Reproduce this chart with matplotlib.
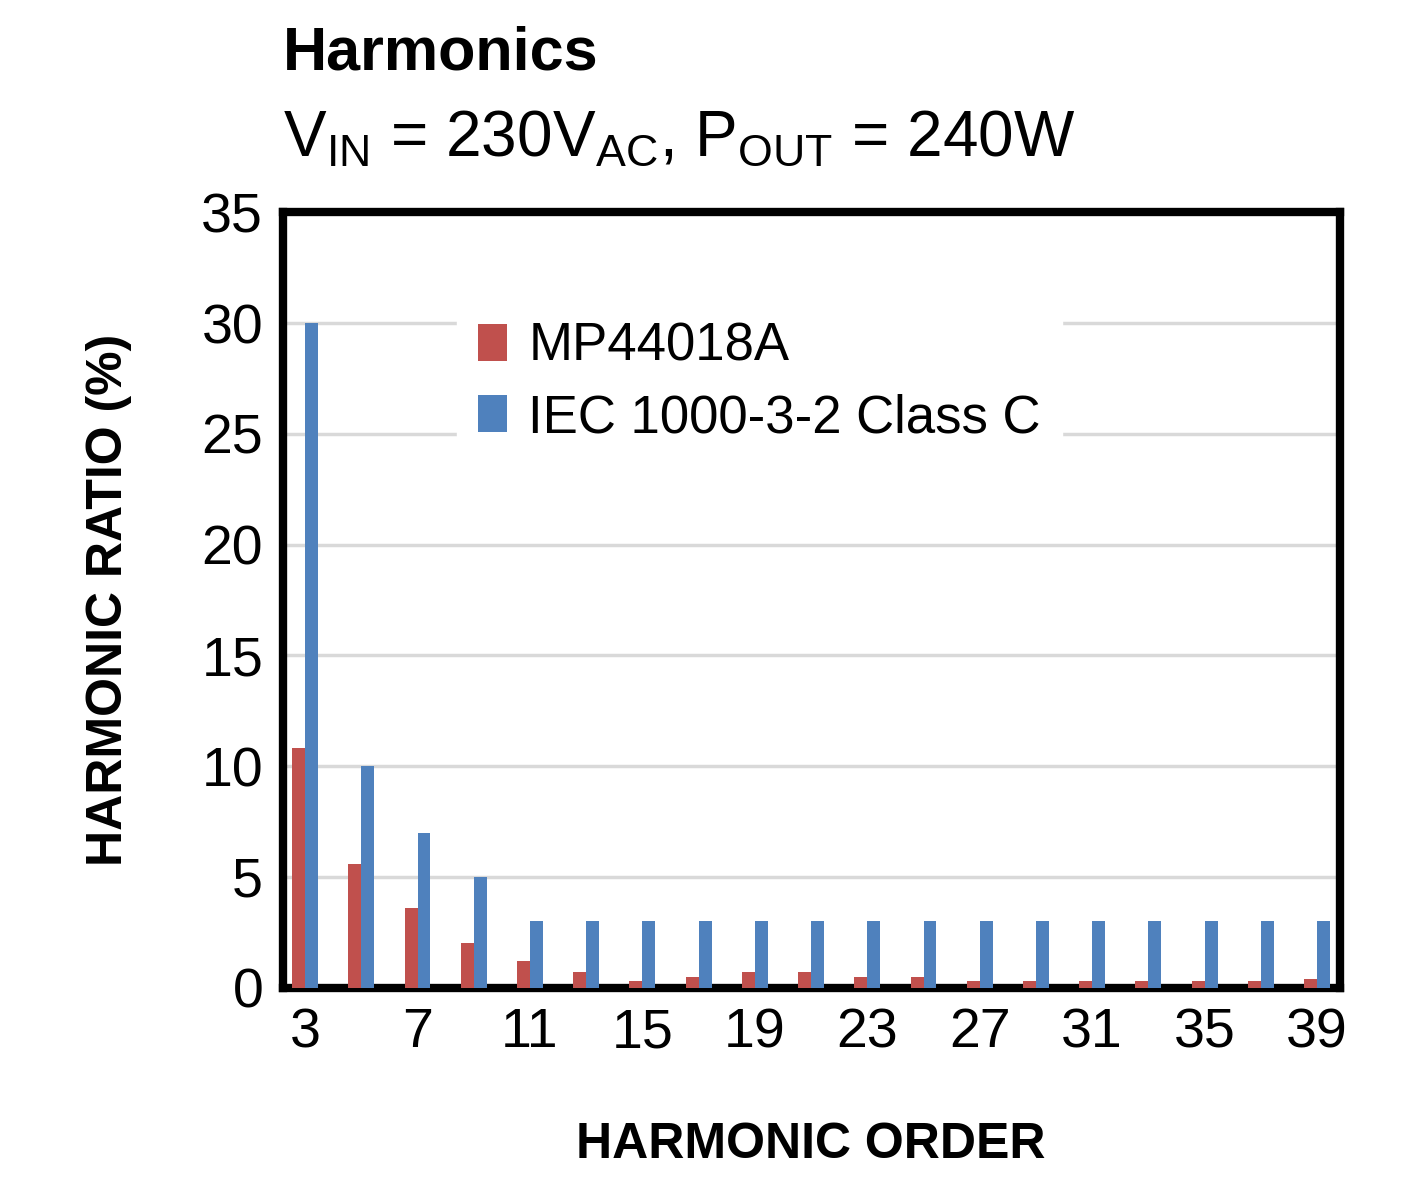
import matplotlib
matplotlib.use("Agg")
import matplotlib.pyplot as plt
import numpy as np

orders = [3,5,7,9,11,13,15,17,19,21,23,25,27,29,31,33,35,37,39]
mp = [10.8,5.6,3.6,2.0,1.2,0.7,0.3,0.5,0.7,0.7,0.5,0.5,0.3,0.3,0.3,0.3,0.3,0.3,0.4]
iec = [30,10,7,5,3,3,3,3,3,3,3,3,3,3,3,3,3,3,3]
tick_labels = ["3","7","11","15","19","23","27","31","35","39"]

plt.rcParams['font.family'] = ['Liberation Sans', 'DejaVu Sans']
plt.rcParams['mathtext.fontset'] = 'custom'
plt.rcParams['mathtext.rm'] = 'Liberation Sans'
fig = plt.figure(figsize=(14.13, 12), dpi=100)
ax = fig.add_axes([0.2, 0.177, 0.748, 0.646])
x = np.arange(len(orders))
w = 0.23
ax.bar(x - w/2, mp, w, color='#c0504d', label='MP44018A', zorder=3)
ax.bar(x + w/2, iec, w, color='#4f81bd', label='IEC 1000-3-2 Class C', zorder=3)
ax.set_xlim(-0.4, len(orders) - 0.6)
ax.set_ylim(0, 35)
ax.set_yticks(range(0, 36, 5))
ax.set_xticks(x[::2])
ax.set_xticklabels(tick_labels)
ax.tick_params(axis='both', labelsize=40, length=0, pad=14)
ax.yaxis.grid(True, color='#d9d9d9', linewidth=2.5, zorder=0)
for s in ax.spines.values():
    s.set_linewidth(6)
ax.set_xlabel('HARMONIC ORDER', fontsize=36, fontweight='bold', labelpad=45)
ax.set_ylabel('HARMONIC RATIO (%)', fontsize=36, fontweight='bold', labelpad=50)
leg = ax.legend(loc='upper left', bbox_to_anchor=(0.14, 0.92), fontsize=38, frameon=True,
                handlelength=0.55, handleheight=0.7, handletextpad=0.4, labelspacing=0.4,
                edgecolor='white', fancybox=False, framealpha=1)
fig.text(0.2, 0.955, 'Harmonics', fontsize=44, fontweight='bold', va='center')
fig.text(0.2, 0.885, r'V$_{\mathrm{IN}}$ = 230V$_{\mathrm{AC}}$, P$_{\mathrm{OUT}}$ = 240W',
         fontsize=46, va='center')
fig.savefig('out.png', dpi=100)
